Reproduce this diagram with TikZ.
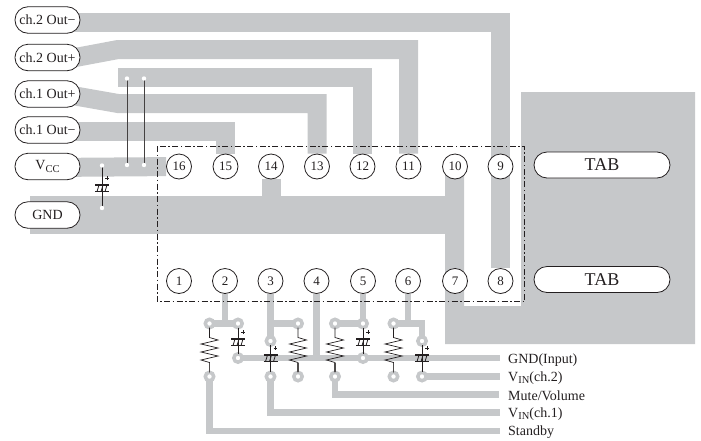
\documentclass[tikz,border=0pt]{standalone}
\usepackage{fontspec}
\setmainfont{Liberation Serif}
\usetikzlibrary{backgrounds}
\definecolor{cu}{HTML}{C6C8CA}
\definecolor{ink}{HTML}{231F20}
\newcommand{\capsym}[2]{%
  \draw[line width=1.3pt,ink] (#1-7,#2) -- (#1+7,#2) (#1-7,#2+6.6) -- (#1+7,#2+6.6);
  \draw[line width=0.8pt,ink] (#1-5,#2+6.6) -- (#1-3,#2) (#1-1,#2+6.6) -- (#1+1,#2) (#1+3,#2+6.6) -- (#1+5,#2);
  \draw[line width=0.9pt,ink] (#1+3.2,#2-7) -- (#1+6.8,#2-7) (#1+5,#2-8.8) -- (#1+5,#2-5.2);}
\newcommand{\reslead}[2]{%
  \draw[lead] (#1) -- ++(0,14) -- ++(8.5,2.5) -- ++(-17,4) -- ++(17,4) -- ++(-17,4) -- ++(17,4) -- ++(-17,4) -- ++(8.5,2.5) -- (#2);
  \draw[line width=1.1pt,ink!80!white] (#2) -- ++(0,-14);}
\tikzset{
  pin/.style={circle,draw=ink,fill=white,line width=0.8pt,minimum size=25pt,inner sep=0pt,text=ink,font=\fontsize{13}{13}\selectfont},
  term/.style={rectangle,rounded corners=13pt,draw=ink,fill=white,line width=0.8pt,minimum width=65pt,minimum height=26.5pt,inner sep=0pt,text=ink,font=\fontsize{14}{14}\selectfont},
  tabbox/.style={term,minimum width=136pt,minimum height=26pt,font=\fontsize{18}{18}\selectfont},
  pad/.style={circle,draw=cu,fill=white,line width=3.5pt,minimum size=8.4pt,inner sep=0pt,outer sep=0pt},
  jdot/.style={circle,fill=white,minimum size=4.4pt,inner sep=0pt,outer sep=0pt},
  wide/.style={draw=cu,line width=19pt,line join=miter},
  narrow/.style={draw=cu,line width=6.5pt,line join=miter},
  lead/.style={draw=ink,line width=0.7pt},
  jump/.style={draw=ink!85!white,line width=1pt},
  pinlabel/.style={anchor=west,inner sep=0pt,text=ink,font=\fontsize{14}{14}\selectfont},
  outline/.style={draw=ink,line width=0.8pt,dash pattern=on 6pt off 2.5pt on 1.5pt off 2.5pt}
}
\begin{document}
\begin{tikzpicture}[x=1pt,y=-1pt]
\useasboundingbox (0,0) rectangle (701,440);
% terminals
\node[term] (c2m) at (47.5,20) {ch.2 Out−};
\node[term] (c2p) at (47.5,57.5) {ch.2 Out+};
\node[term] (c1p) at (47.5,94) {ch.1 Out+};
\node[term] (c1m) at (47.5,130) {ch.1 Out−};
\node[term] (vcc) at (47.5,166.5) {V\raisebox{-2.5pt}{\fontsize{10.5}{10.5}\selectfont CC}};
\node[term] (gnd) at (47.5,215) {GND};
\node[tabbox] (tabA) at (602,165) {TAB};
\node[tabbox] (tabB) at (602,279.5) {TAB};
% pins
\foreach \n/\x in {16/179,15/225.5,14/271,13/317,12/362.5,11/408.5,10/455,9/500.5}
  \node[pin] (p\n) at (\x,166.5) {\n};
\foreach \n/\x in {1/179,2/225,3/270.5,4/316.5,5/363,6/408,7/455,8/500.5}
  \node[pin] (p\n) at (\x,281) {\n};
% pads
\node[pad] (a1) at (209.5,323.5) {};
\node[pad] (a2) at (238,323.5) {};
\node[pad] (a3) at (238,358) {};
\node[pad] (a4) at (209.5,376.5) {};
\node[pad] (b1) at (270.5,341) {};
\node[pad] (b2) at (298,323.5) {};
\node[pad] (b3) at (270.5,376.5) {};
\node[pad] (b4) at (298,376.5) {};
\node[pad] (c1) at (335,323.5) {};
\node[pad] (c2) at (363,323.5) {};
\node[pad] (c3) at (363,358) {};
\node[pad] (c4) at (335,376.5) {};
\node[pad] (d1) at (393.5,323.5) {};
\node[pad] (d2) at (422,341) {};
\node[pad] (d3) at (422,376.5) {};
\node[pad] (d4) at (393.5,376.5) {};
% labels at the right
\node[pinlabel] (lgnd) at (508,360) {GND(Input)};
\node[pinlabel] (lv2) at (508,378) {V\raisebox{-2.5pt}{\fontsize{10.5}{10.5}\selectfont IN}(ch.2)};
\node[pinlabel] (lmute) at (508,396) {Mute/Volume};
\node[pinlabel] (lv1) at (508,414) {V\raisebox{-2.5pt}{\fontsize{10.5}{10.5}\selectfont IN}(ch.1)};
\node[pinlabel] (lst) at (508,432) {Standby};
\coordinate (egnd) at (500,358);
\coordinate (ev2) at (500,376.5);
\coordinate (emute) at (499,394.5);
\coordinate (ev1) at (500,412.5);
\coordinate (est) at (500,431);
% jumper and capacitor pads
\coordinate (j1a) at (127,78.5);
\coordinate (j1b) at (127,165);
\coordinate (j2a) at (144,78.5);
\coordinate (j2b) at (144,165);
\coordinate (ca) at (102,165.5);
\coordinate (cb) at (102,208);
% copper
\begin{scope}[on background layer]
  \fill[cu] (445,166.5) -- (464,166.5) -- (464,306) -- (521,306) -- (521,92) -- (695,92) -- (695,344) -- (445,344) -- cycle;
  \fill[cu] (30,196) rectangle (464,234);
  \draw[wide] (p14) -- (p14|-{0,200});
  \draw[wide] ([yshift=-2.7pt]c2m.center) -| (p8);
  \draw[wide] (60,60.4) -- (118,49.5) -| (p11);
  \draw[wide] (118,77.5) -| (p12);
  \draw[wide] (60,93.3) -- (118,103.5) -| (p13);
  \draw[wide] ([yshift=-1.5pt]c1m.center) -| (p15);
  \draw[wide] ([yshift=-1pt]vcc.center) -- (p16);
  \draw[narrow] (p2) -- (p2|-a1);
  \draw[narrow] (a1) -- (a2);
  \draw[narrow] (p3) -- (b1);
  \draw[narrow] (p3|-b2) -- (b2);
  \draw[narrow] (p4) -- (p4|-egnd);
  \draw[narrow] (a3) -- (egnd);
  \draw[narrow] (p5) -- (c2);
  \draw[narrow] (c1) -- (c2);
  \draw[narrow] (p6) -- (p6|-d1);
  \draw[narrow] (d1) -| (d2);
  \draw[narrow] (d3) -- (ev2);
  \draw[narrow] (c4) |- (emute);
  \draw[narrow] (b3) |- (ev1);
  \draw[narrow] (a4) |- (est);
\end{scope}
% outline of the package
\draw[outline] (157,146) rectangle (524.5,301.5);
% jumpers
\draw[jump] (j1a) -- (j1b);
\draw[jump] (j2a) -- (j2b);
\draw[lead] (ca) -- (cb);
\foreach \j in {j1a,j1b,j2a,j2b,ca,cb} \node[jdot] at (\j) {};
% capacitors and resistors
\capsym{102}{185}
\draw[lead] (a2) -- (a3);  \capsym{238}{339}
\draw[lead] (b1) -- (b3);  \capsym{270.5}{355}
\draw[lead] (c2) -- (c3);  \capsym{363}{339}
\draw[lead] (d2) -- (d3);  \capsym{422}{355}
\reslead{a1}{a4}
\reslead{b2}{b4}
\reslead{c1}{c4}
\reslead{d1}{d4}
\end{tikzpicture}
\end{document}
